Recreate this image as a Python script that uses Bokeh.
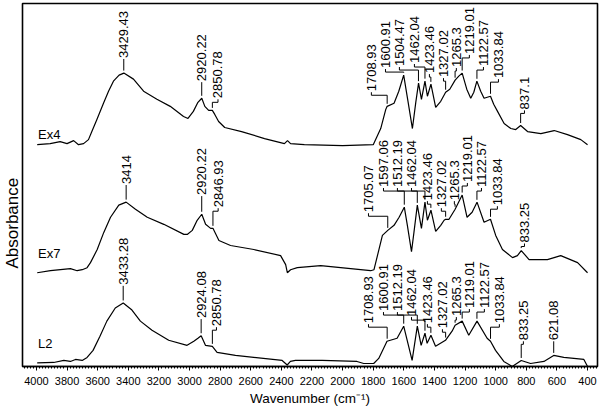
import numpy as np
from bokeh.plotting import figure
from bokeh.models import Range1d, SingleIntervalTicker, ColumnDataSource, Title
from bokeh.core.properties import value
from bokeh.embed import file_html
from bokeh.resources import INLINE

# ---------------- data (wavenumber cm-1, absorbance a.u.) ----------------
ex4_wn = [3995, 3910, 3845, 3800, 3757, 3725, 3692, 3660, 3638, 3605, 3562, 3529, 3497,
          3460, 3429, 3366, 3300, 3213, 3126, 3039, 3010, 2975, 2945, 2920, 2900, 2875,
          2851, 2835, 2810, 2770, 2660, 2510, 2380, 2360, 2340, 2250, 2000, 1800, 1751,
          1718, 1709, 1664, 1633, 1601, 1575, 1544, 1522, 1504, 1485, 1462, 1446, 1423,
          1392, 1359, 1327, 1300, 1265, 1241, 1219, 1189, 1163, 1143, 1123, 1098, 1076,
          1034, 1013, 988, 945, 901, 869, 837, 792, 705, 618, 531, 444, 400]
ex4_abs = [220, 221, 223, 221, 224, 220, 221, 225, 233, 245, 261, 273, 283,
           289, 291, 285, 273, 265, 258, 248, 246, 253, 262, 266, 258, 254,
           254, 250, 243, 237, 233, 226, 221, 224, 221, 220, 219, 220, 236,
           255, 258, 261, 273, 289, 265, 236, 262, 281, 265, 283, 268, 280,
           257, 263, 272, 275, 284, 288, 291, 275, 266, 272, 283, 273, 266,
           268, 260, 253, 241, 236, 235, 239, 233, 231, 234, 230, 225, 220]

ex7_wn = [3995, 3908, 3843, 3778, 3734, 3701, 3669, 3647, 3603, 3560, 3516, 3462, 3414,
          3353, 3276, 3168, 3037, 3015, 2982, 2950, 2920, 2895, 2862, 2847, 2808, 2732,
          2580, 2405, 2372, 2361, 2340, 2296, 2143, 1817, 1795, 1740, 1705, 1664, 1631,
          1597, 1577, 1550, 1534, 1512, 1485, 1462, 1446, 1423, 1392, 1359, 1337, 1327,
          1305, 1265, 1219, 1187, 1154, 1122, 1076, 1034, 1000, 956, 890, 858, 833, 782,
          662, 575, 465, 400]
ex7_abs = [93, 95, 96, 97, 95, 96, 98, 103, 116, 133, 148, 160, 163,
           156, 148, 141, 131, 131, 135, 145, 151, 141, 137, 137, 125, 120,
           116, 110, 101, 93, 96, 98, 100, 95, 96, 130, 135, 140, 148,
           158, 140, 114, 133, 160, 137, 163, 145, 155, 134, 140, 145, 146,
           146, 156, 170, 148, 153, 163, 143, 146, 130, 116, 108, 110, 115, 106,
           106, 110, 103, 93]

l2_wn = [3995, 3887, 3821, 3778, 3745, 3701, 3669, 3630, 3585, 3540, 3485, 3433, 3376,
         3321, 3245, 3136, 3016, 2972, 2945, 2924, 2896, 2851, 2820, 2700, 2395, 2362,
         2341, 2308, 2133, 1906, 1862, 1797, 1764, 1710, 1644, 1601, 1546, 1512, 1487,
         1462, 1448, 1423, 1393, 1328, 1285, 1265, 1219, 1176, 1122, 1056, 1034, 1001,
         947, 892, 833, 772, 685, 621, 555, 424, 400]
l2_abs = [3.5, 4, 6, 5, 7, 6, 9, 16, 30, 45, 58, 63, 56,
          45, 36, 26, 21, 25, 28, 30.5, 21, 20, 14, 11, 6, 1.5,
          5, 6, 6, 5, 3, 3, 8, 25, 28, 40, 6, 40, 21,
          33, 23, 31, 20, 26, 35, 41, 45, 31, 45, 28, 25, 16,
          5, 0, 6, 3, 5, 11, 9, 7, 0]

ex4_labels = ["3429.43", "2920.22", "2850.78", "1708.93", "1600.91", "1504.47", "1462.04",
              "1423.46", "1327.02", "1265.3", "1219.01", "1122.57", "1033.84", "837.1"]
ex7_labels = ["3414", "2920.22", "2846.93", "1705.07", "1597.06", "1512.19", "1462.04",
              "1423.46", "1327.02", "1265.3", "1219.01", "1122.57", "1033.84", "833.25"]
l2_labels = ["3433.28", "2924.08", "2850.78", "1708.93", "1600.91", "1512.19", "1462.04",
             "1423.46", "1327.02", "1265.3", "1219.01", "1122.57", "1033.84", "833.25", "621.08"]

series_names = ["Ex4", "Ex7", "L2"]

# ---------------- label layout (text anchor positions) ----------------
ex4_text_x = [3429.43, 2920.22, 2814, 1812, 1720, 1629, 1531, 1433, 1341, 1257, 1172, 1080, 982, 812]
ex4_text_y = [306, 283, 266, 273, 296, 298, 301, 291, 287, 297, 310, 298, 286, 255]
ex7_text_x = [3414, 2920.22, 2813, 1831, 1733, 1642, 1550, 1446, 1355, 1270, 1185, 1093, 989, 812]
ex7_text_y = [181, 170, 158, 153, 178, 178, 178, 165, 158, 165, 183, 178, 160, 123]
l2_text_x = [3433.28, 2924.08, 2824, 1831, 1733, 1642, 1550, 1446, 1348, 1257, 1172, 1074, 976, 819, 621.08]
l2_text_y = [81, 48, 40, 43, 55, 55, 50, 43, 38, 50, 58, 58, 43, 26, 26]
name_y = [230, 112, 23]

FONT = "Liberation Sans"

p = figure(width=600, height=408, output_backend="svg", toolbar_location=None,
           x_range=Range1d(4091, 335), y_range=Range1d(0, 360),
           y_axis_location=None, min_border_left=21, min_border_right=3,
           min_border_top=3, min_border_bottom=0)
p.xgrid.visible = False
p.ygrid.visible = False
p.outline_line_color = "black"
p.outline_line_width = 1.6
p.background_fill_color = "white"

ax = p.xaxis[0]
ax.ticker = SingleIntervalTicker(interval=200, num_minor_ticks=10)
ax.axis_line_width = 1.6
ax.major_tick_in = 0
ax.major_tick_out = 4
ax.minor_tick_in = 0
ax.minor_tick_out = 2
ax.major_label_standoff = 6
ax.major_label_text_font = FONT
ax.major_label_text_font_size = "11px"
ax.major_label_text_color = "black"
ax.axis_label = "Wavenumber (cm\u207b\u00b9)"
ax.axis_label_text_font = FONT
ax.axis_label_text_font_size = "13.5px"
ax.axis_label_text_font_style = "normal"
ax.axis_label_standoff = 3
ax.axis_label_text_color = "black"

ytitle = Title(text="Absorbance", align="left", offset=98, standoff=1,
               text_font=FONT, text_font_size="17px", text_font_style="normal",
               text_color="black")
p.add_layout(ytitle, "left")

series = [
    (ex4_wn, ex4_abs, ex4_labels, ex4_text_x, ex4_text_y),
    (ex7_wn, ex7_abs, ex7_labels, ex7_text_x, ex7_text_y),
    (l2_wn, l2_abs, l2_labels, l2_text_x, l2_text_y),
]

for (wn, ab, labs, tx, ty), nm, ny in zip(series, series_names, name_y):
    p.line(wn, ab, line_color="black", line_width=1.2)
    wn_sorted = np.array(wn[::-1], dtype=float)
    ab_sorted = np.array(ab[::-1], dtype=float)
    xs, ys = [], []
    for lab, x_t, y_t in zip(labs, tx, ty):
        pw = float(lab)
        pv = float(np.interp(pw, wn_sorted, ab_sorted))
        if abs(x_t - pw) < 1:
            xs.append([pw, pw])
            ys.append([pv + 2.5, y_t - 1])
        else:
            knee = y_t - 4
            xs.append([pw, pw, x_t, x_t])
            ys.append([pv + 2.5, knee, knee, y_t - 1])
    p.multi_line(xs, ys, line_color="black", line_width=1)
    src = ColumnDataSource(dict(x=tx, y=ty, t=labs))
    p.text("x", "y", text="t", source=src, angle=np.pi / 2, text_align="left",
           text_baseline="middle", text_font=value(FONT), text_font_size="13px",
           text_color="black")
    p.text([3990], [ny], text=[nm], text_align="left", text_baseline="middle",
           text_font=value(FONT), text_font_size="13px", text_color="black")

open("out.html", "w").write(file_html(p, INLINE))
